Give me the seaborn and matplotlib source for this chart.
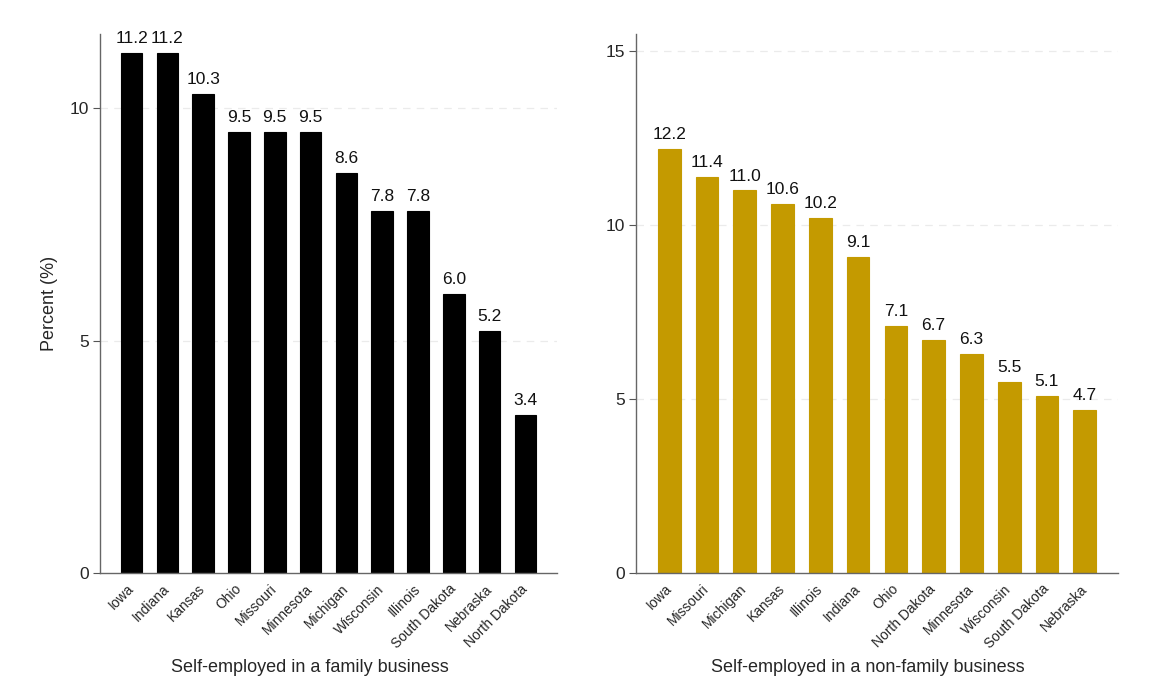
import matplotlib
matplotlib.use("Agg")
import matplotlib.pyplot as plt
import seaborn as sns
import pandas as pd

family_states = ["Iowa", "Indiana", "Kansas", "Ohio", "Missouri", "Minnesota",
                 "Michigan", "Wisconsin", "Illinois", "South Dakota", "Nebraska", "North Dakota"]
family_values = [11.2, 11.2, 10.3, 9.5, 9.5, 9.5, 8.6, 7.8, 7.8, 6.0, 5.2, 3.4]

nonfamily_states = ["Iowa", "Missouri", "Michigan", "Kansas", "Illinois", "Indiana",
                    "Ohio", "North Dakota", "Minnesota", "Wisconsin", "South Dakota", "Nebraska"]
nonfamily_values = [12.2, 11.4, 11.0, 10.6, 10.2, 9.1, 7.1, 6.7, 6.3, 5.5, 5.1, 4.7]

left_ticks = [0, 5, 10]
right_ticks = [0, 5, 10, 15]

sns.set_theme(style="white")
plt.rcParams['font.family'] = ['Liberation Sans', 'DejaVu Sans']

fig = plt.figure(figsize=(11.55, 6.93), dpi=100)
ax1 = fig.add_axes([100/1155, 1-573/693, (557-100)/1155, (573-34)/693])
ax2 = fig.add_axes([636/1155, 1-573/693, (1118-636)/1155, (573-34)/693])

def draw(ax, states, values, color, ticks, ymax, xlabel, ylabel, xlab_x):
    df = pd.DataFrame({"state": states, "value": values})
    sns.barplot(data=df, x="state", y="value", color=color, ax=ax, width=0.6,
                edgecolor=color, linewidth=0.8, saturation=1)
    for c in ax.containers:
        ax.bar_label(c, fmt="%.1f", padding=5, fontsize=12.5, color="#111111")
    ax.set_ylim(0, ymax)
    ax.set_xlim(-0.88, len(states) - 1 + 0.88)
    ax.set_yticks(ticks)
    ax.set_yticklabels([str(t) for t in ticks], fontsize=12.5)
    for t in ticks:
        if t != 0:
            ax.axhline(t, color="#ebebeb", linestyle=(0, (6, 5)), linewidth=0.9, zorder=0)
    ax.set_xticks(range(len(states)))
    ax.set_xticklabels(states, rotation=45, ha="right", va="center",
                       rotation_mode="anchor", fontsize=10)
    ax.tick_params(axis="y", which="both", left=True, length=5, width=0.8, color="#555555", pad=3)
    ax.tick_params(axis="x", bottom=False, pad=4)
    for s in ["top", "right"]:
        ax.spines[s].set_visible(False)
    for s in ["left", "bottom"]:
        ax.spines[s].set_color("#666666")
        ax.spines[s].set_linewidth(1.0)
    ax.set_xlabel(xlabel, fontsize=13)
    ax.xaxis.set_label_coords(xlab_x, -0.159)
    ax.set_ylabel(ylabel, fontsize=13, labelpad=8)
    ax.set_facecolor("white")

draw(ax1, family_states, family_values, "#000000", left_ticks, 11.6,
     "Self-employed in a family business", "Percent (%)", 0.46)
draw(ax2, nonfamily_states, nonfamily_values, "#C49A00", right_ticks, 15.5,
     "Self-employed in a non-family business", "", 0.481)

fig.savefig("out.png", dpi=100, facecolor="white")
